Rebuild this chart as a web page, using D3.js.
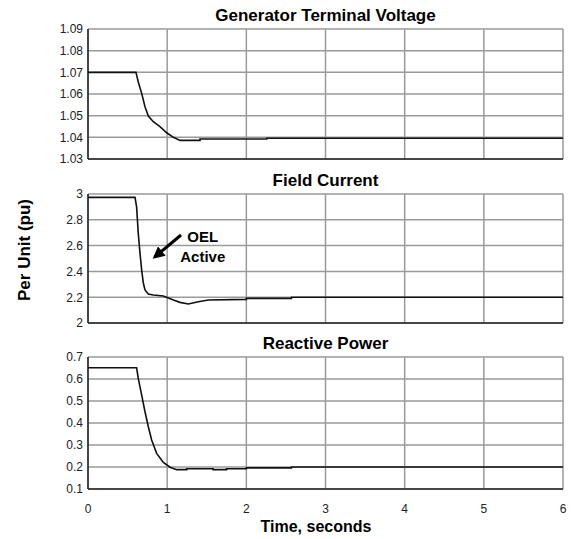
<!DOCTYPE html>
<html>
<head>
<meta charset="utf-8">
<script src="https://cdn.jsdelivr.net/npm/d3@7"></script>
<style>
  body { margin: 0; background: #fff; }
  svg { display: block; font-family: Arial, "Liberation Sans", sans-serif; }
</style>
</head>
<body>
<svg id="canvas"></svg>
<script>
// time axis
const xTicks = [0, 1, 2, 3, 4, 5, 6];

// Generator Terminal Voltage
const voltTime = [0, 0.606, 0.635, 0.678, 0.72, 0.762, 0.825, 0.909, 0.994, 1.079, 1.162, 1.415, 1.415, 2.257, 2.257, 6];
const voltVal  = [1.07, 1.07, 1.0655, 1.0603, 1.0541, 1.0498, 1.0472, 1.0449, 1.0421, 1.040, 1.0386, 1.0386, 1.0392, 1.0392, 1.0396, 1.0396];
const voltTicks = [1.03, 1.04, 1.05, 1.06, 1.07, 1.08, 1.09];

// Field Current
const fieldTime = [0, 0.594, 0.614, 0.635, 0.657, 0.678, 0.699, 0.72, 0.762, 0.825, 0.952, 1.079, 1.162, 1.268, 1.394, 1.52, 2.0, 2.0, 2.57, 2.57, 6];
const fieldVal  = [2.974, 2.974, 2.90, 2.695, 2.54, 2.41, 2.31, 2.256, 2.225, 2.217, 2.209, 2.178, 2.16, 2.147, 2.165, 2.178, 2.183, 2.191, 2.191, 2.2, 2.2];
const fieldTicks = [2, 2.2, 2.4, 2.6, 2.8, 3];

// Reactive Power
const reacTime = [0, 0.614, 0.635, 0.678, 0.72, 0.762, 0.804, 0.867, 0.952, 1.036, 1.12, 1.246, 1.246, 1.58, 1.58, 1.75, 1.75, 2.0, 2.0, 2.57, 2.57, 6];
const reacVal  = [0.651, 0.651, 0.603, 0.527, 0.451, 0.383, 0.323, 0.262, 0.221, 0.199, 0.188, 0.188, 0.192, 0.192, 0.188, 0.188, 0.192, 0.192, 0.196, 0.196, 0.2, 0.2];
const reacTicks = [0.1, 0.2, 0.3, 0.4, 0.5, 0.6, 0.7];

const width = 571;
const height = 539;
const svg = d3.select("#canvas").attr("width", width).attr("height", height);

const marginLeft = 88;
const marginRight = 8;

const xScale = d3.scaleLinear()
    .domain([0, 6])
    .range([marginLeft, width - marginRight]);

const panels = [
    { title: "Generator Terminal Voltage", top: 29, bottom: 159, time: voltTime, vals: voltVal, ticks: voltTicks, fmt: d3.format(".2f") },
    { title: "Field Current", top: 194, bottom: 323, time: fieldTime, vals: fieldVal, ticks: fieldTicks, fmt: d => String(+d.toFixed(1)) },
    { title: "Reactive Power", top: 357, bottom: 489, time: reacTime, vals: reacVal, ticks: reacTicks, fmt: d3.format(".1f") }
];

const yScales = [];

panels.forEach((p, pi) => {
    const yScale = d3.scaleLinear()
        .domain(d3.extent(p.ticks))
        .range([p.bottom, p.top]);
    yScales.push(yScale);

    const g = svg.append("g");

    // grid
    g.selectAll(".hgrid")
        .data(p.ticks)
        .join("line")
        .attr("x1", xScale(0)).attr("x2", xScale(6))
        .attr("y1", d => yScale(d)).attr("y2", d => yScale(d))
        .attr("stroke", "#9a9a9a")
        .attr("stroke-width", 1.5);

    g.selectAll(".vgrid")
        .data(xTicks)
        .join("line")
        .attr("x1", d => xScale(d)).attr("x2", d => xScale(d))
        .attr("y1", p.top).attr("y2", p.bottom)
        .attr("stroke", "#9a9a9a")
        .attr("stroke-width", 1.5);

    // left + bottom axis lines
    g.append("line")
        .attr("x1", xScale(0)).attr("x2", xScale(0))
        .attr("y1", p.top).attr("y2", p.bottom)
        .attr("stroke", "#222").attr("stroke-width", 1.5);
    g.append("line")
        .attr("x1", xScale(0)).attr("x2", xScale(6))
        .attr("y1", p.bottom).attr("y2", p.bottom)
        .attr("stroke", "#222").attr("stroke-width", 1.5);

    // y tick labels
    g.selectAll(".ylab")
        .data(p.ticks)
        .join("text")
        .attr("x", xScale(0) - 5)
        .attr("y", d => yScale(d))
        .attr("dy", "0.36em")
        .attr("text-anchor", "end")
        .attr("font-size", 12)
        .attr("fill", "#222")
        .text(d => p.fmt(d));

    // title
    g.append("text")
        .attr("x", (xScale(0) + xScale(6)) / 2)
        .attr("y", p.top - 8)
        .attr("text-anchor", "middle")
        .attr("font-size", 17)
        .attr("font-weight", "bold")
        .attr("fill", "#000")
        .text(p.title);

    // data line
    const line = d3.line()
        .x((d, i) => xScale(p.time[i]))
        .y(d => yScale(d));
    g.append("path")
        .datum(p.vals)
        .attr("fill", "none")
        .attr("stroke", "#111")
        .attr("stroke-width", 1.6)
        .attr("d", line);
});

// x tick labels on the bottom panel
svg.selectAll(".xlab")
    .data(xTicks)
    .join("text")
    .attr("x", d => xScale(d))
    .attr("y", 513)
    .attr("text-anchor", "middle")
    .attr("font-size", 12)
    .attr("fill", "#222")
    .text(d => d);

svg.append("text")
    .attr("x", 316)
    .attr("y", 532)
    .attr("text-anchor", "middle")
    .attr("font-size", 16)
    .attr("font-weight", "bold")
    .text("Time, seconds");

svg.append("text")
    .attr("transform", "translate(30,250) rotate(-90)")
    .attr("text-anchor", "middle")
    .attr("font-size", 17)
    .attr("font-weight", "bold")
    .text("Per Unit (pu)");

// OEL annotation
const yF = yScales[1];
svg.append("defs").append("marker")
    .attr("id", "head")
    .attr("viewBox", "0 0 10 10")
    .attr("refX", 8).attr("refY", 5)
    .attr("markerWidth", 4).attr("markerHeight", 4)
    .attr("orient", "auto")
    .append("path")
    .attr("d", "M0,0L10,5L0,10Z")
    .attr("fill", "#000");

svg.append("line")
    .attr("x1", xScale(1.175)).attr("y1", yF(2.682))
    .attr("x2", xScale(0.84)).attr("y2", yF(2.51))
    .attr("stroke", "#000")
    .attr("stroke-width", 3)
    .attr("marker-end", "url(#head)");

const note = svg.append("text")
    .attr("text-anchor", "middle")
    .attr("font-size", 15)
    .attr("font-weight", "bold");
note.append("tspan").attr("x", xScale(1.45)).attr("y", yF(2.63)).text("OEL");
note.append("tspan").attr("x", xScale(1.45)).attr("y", yF(2.475)).text("Active");
</script>
</body>
</html>
